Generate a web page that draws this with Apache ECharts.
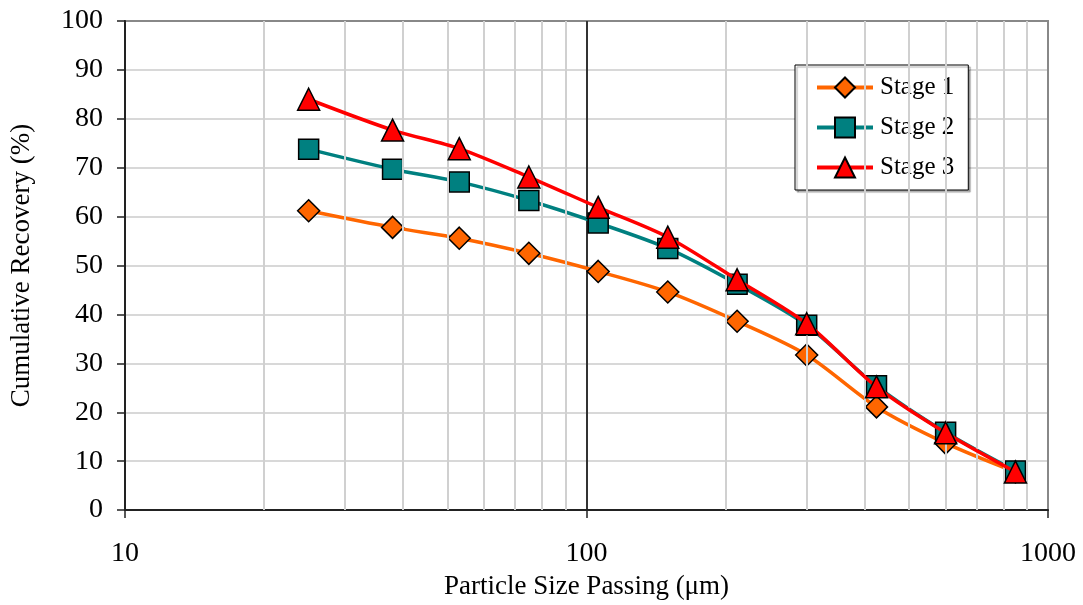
<!DOCTYPE html>
<html>
<head>
<meta charset="utf-8">
<script src="https://cdn.jsdelivr.net/npm/echarts@6/dist/echarts.min.js"></script>
<style>html,body{margin:0;padding:0;background:#fff}#c{width:1083px;height:605px}</style>
</head>
<body>
<div id="c"></div>
<script>
const sizes = [25, 38, 53, 75, 106, 150, 212, 300, 425, 600, 850];
const stage1 = [61.2, 57.8, 55.6, 52.5, 48.8, 44.6, 38.6, 31.7, 21.1, 13.7, 7.8];
const stage2 = [73.8, 69.7, 67.1, 63.3, 58.7, 53.5, 46.2, 37.8, 25.4, 15.9, 8.0];
const stage3 = [84.0, 77.7, 73.9, 68.1, 61.9, 55.8, 47.1, 38.1, 25.2, 15.8, 7.8];
const minorGridX = [20, 30, 40, 50, 60, 70, 80, 90, 200, 300, 400, 500, 600, 700, 800, 900];
const seriesNames = ['Stage 1', 'Stage 2', 'Stage 3'];

const font = 'Liberation Serif, Times New Roman, serif';
const pair = arr => sizes.map((s, i) => [s, arr[i]]);

const chart = echarts.init(document.getElementById('c'), null, {renderer: 'canvas'});
chart.setOption({
  animation: false,
  backgroundColor: '#fff',
  grid: {left: 123, right: 35, top: 21, bottom: 94, show: true, borderColor: '#888', borderWidth: 2, backgroundColor: 'transparent'},
  legend: {
    orient: 'vertical', left: 795, top: 65,
    padding: [10, 14, 10, 20],
    itemWidth: 56, itemHeight: 25, itemGap: 15,
    backgroundColor: '#fff', borderColor: '#000', borderWidth: 1,
    shadowColor: 'rgba(0,0,0,0.35)', shadowOffsetX: 2, shadowOffsetY: 2, shadowBlur: 1,
    lineStyle: {width: 4},
    textStyle: {fontFamily: font, fontSize: 25, color: '#000', padding: [0, 0, 0, 2]},
    data: seriesNames
  },
  xAxis: {
    type: 'log', logBase: 10, min: 10, max: 1000,
    name: 'Particle Size Passing (\u03bcm)', nameLocation: 'middle', nameGap: 61,
    nameTextStyle: {fontFamily: font, fontSize: 27, color: '#000'},
    axisLine: {show: true, onZero: false, lineStyle: {color: '#222', width: 2}},
    axisTick: {show: true, length: 8, lineStyle: {color: '#222', width: 1.5}},
    axisLabel: {fontFamily: font, fontSize: 28, color: '#000', margin: 30, formatter: v => String(v)},
    splitLine: {show: true, lineStyle: {color: ['#222', '#333', '#888'], width: 2}}
  },
  yAxis: {
    type: 'value', min: 0, max: 100, interval: 10,
    name: 'Cumulative Recovery (%)', nameLocation: 'middle', nameGap: 90, nameRotate: 90,
    nameTextStyle: {fontFamily: font, fontSize: 27, color: '#000'},
    axisLine: {show: true, lineStyle: {color: '#222', width: 2}},
    axisTick: {show: true, length: 8, lineStyle: {color: '#222', width: 1.5}},
    axisLabel: {fontFamily: font, fontSize: 28, color: '#000', margin: 22},
    splitLine: {show: true, lineStyle: {color: ['#d8d8d8','#d8d8d8','#d8d8d8','#d8d8d8','#d8d8d8','#d8d8d8','#d8d8d8','#d8d8d8','#d8d8d8','#d8d8d8','#888'], width: 2}}
  },
  series: [
    {
      name: 'grid-minor', type: 'line', data: [], silent: true,
      markLine: {
        silent: true, symbol: 'none', animation: false,
        label: {show: false},
        lineStyle: {color: '#d0d0d0', width: 2, type: 'solid'},
        data: minorGridX.map(v => ({xAxis: v}))
      },
      z: 1
    },
    {
      name: 'Stage 1', type: 'line', data: pair(stage1), smooth: 0.3,
      symbol: 'diamond', symbolSize: 22,
      lineStyle: {color: '#FF6600', width: 3.5},
      itemStyle: {color: '#FF6600', borderColor: '#000', borderWidth: 1.5},
      z: 3
    },
    {
      name: 'Stage 2', type: 'line', data: pair(stage2), smooth: 0.3,
      symbol: 'rect', symbolSize: 20,
      lineStyle: {color: '#008080', width: 3.5},
      itemStyle: {color: '#008080', borderColor: '#000', borderWidth: 1.5},
      z: 4
    },
    {
      name: 'Stage 3', type: 'line', data: pair(stage3), smooth: 0.3,
      symbol: 'triangle', symbolSize: 22,
      lineStyle: {color: '#FF0000', width: 3.5},
      itemStyle: {color: '#FF0000', borderColor: '#000', borderWidth: 1.5},
      z: 5
    }
  ]
});
</script>
</body>
</html>
